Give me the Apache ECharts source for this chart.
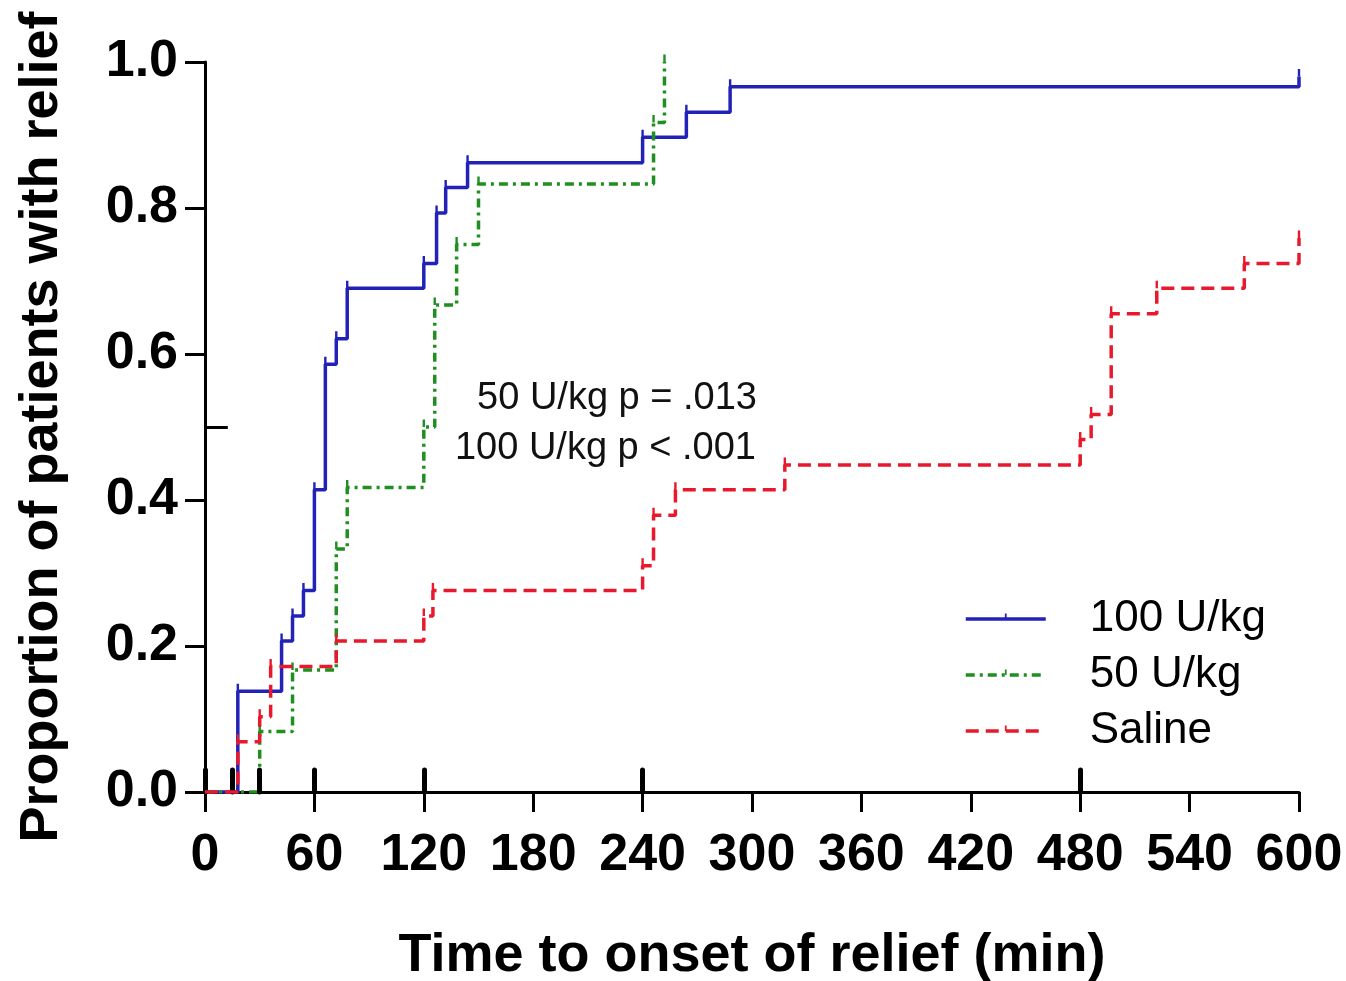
<!DOCTYPE html>
<html>
<head>
<meta charset="utf-8">
<script src="https://cdn.jsdelivr.net/npm/echarts@6/dist/echarts.min.js"></script>
<style>
  html, body { margin: 0; padding: 0; background: #fff; }
  #chart { width: 1346px; height: 981px; }
</style>
</head>
<body>
<div id="chart"></div>
<script>
// Kaplan-Meier style cumulative relief curves (time in minutes, proportion relieved)
const seriesNames = ['100 U/kg', '50 U/kg', 'Saline'];

const time100 = [0, 18, 42, 48, 54, 60, 66, 72, 78, 120, 127, 132, 144, 240, 264, 288, 600];
const prop100 = [0, 0.138, 0.207, 0.241, 0.276, 0.414, 0.586, 0.621, 0.690, 0.724, 0.793, 0.828, 0.862, 0.897, 0.931, 0.966, 0.98];

const time50 = [0, 30, 48, 72, 78, 120, 126, 138, 150, 246, 252];
const prop50 = [0, 0.083, 0.167, 0.333, 0.417, 0.5, 0.667, 0.75, 0.833, 0.917, 1.0];

const timeSaline = [0, 18, 30, 36, 72, 120, 125, 240, 246, 258, 318, 480, 486, 497, 522, 570, 600];
const propSaline = [0, 0.069, 0.103, 0.172, 0.207, 0.241, 0.276, 0.310, 0.379, 0.414, 0.448, 0.483, 0.517, 0.655, 0.690, 0.724, 0.759];

// assessment time points marked along the time axis
const assessTimes = [0, 15, 30, 60, 120, 240, 480];

const xTicks = [0, 60, 120, 180, 240, 300, 360, 420, 480, 540, 600];
const yTicks = [0.0, 0.2, 0.4, 0.6, 0.8, 1.0];

const annotationLines = ['50 U/kg p = .013', '100 U/kg p < .001'];

const FONT = '"Liberation Sans", Arial, Helvetica, sans-serif';

// small upright tick drawn above each event point (square bounding box keeps it un-stretched)
const TICK = 'path://M0,0 L0.01,0 M4.2,0 L5.8,0 L5.8,5 L4.2,5 Z M10,10 L9.99,10';

function pairs(ts, ps) {
  return ts.map((t, i) => i === 0 ? { value: [t, ps[i]], symbol: 'none' } : [t, ps[i]]);
}

function kmSeries(name, ts, ps, color, type, z) {
  return {
    name: name,
    type: 'line',
    step: 'end',
    data: pairs(ts, ps),
    z: z,
    showAllSymbol: true,
    symbol: TICK,
    symbolSize: 15,
    itemStyle: { color: color, borderWidth: 0 },
    lineStyle: { color: color, width: 3.5, type: type, cap: 'butt' },
    emphasis: { disabled: true },
    animation: false
  };
}

const chart = echarts.init(document.getElementById('chart'), null, { renderer: 'canvas' });

const option = {
  backgroundColor: '#ffffff',
  animation: false,
  grid: { left: 205, right: 47, top: 62, bottom: 189, outerBoundsMode: 'none', containLabel: false },
  xAxis: {
    type: 'value',
    min: xTicks[0],
    max: xTicks[xTicks.length - 1],
    interval: 60,
    name: 'Time to onset of relief (min)',
    nameLocation: 'middle',
    nameGap: 137,
    nameTextStyle: { fontFamily: FONT, fontWeight: 'bold', fontSize: 54, color: '#000' },
    axisLine: { lineStyle: { color: '#000', width: 3 } },
    axisTick: { show: true, length: 20, lineStyle: { color: '#000', width: 3 } },
    axisLabel: { margin: 38, fontFamily: FONT, fontWeight: 'bold', fontSize: 52, color: '#000' },
    splitLine: { show: false }
  },
  yAxis: {
    type: 'value',
    min: yTicks[0],
    max: yTicks[yTicks.length - 1],
    interval: 0.2,
    name: 'Proportion of patients with relief',
    nameLocation: 'middle',
    nameGap: 136,
    nameTextStyle: { fontFamily: FONT, fontWeight: 'bold', fontSize: 54, color: '#000' },
    axisLine: { show: true, lineStyle: { color: '#000', width: 3 } },
    axisTick: { show: true, length: 20, lineStyle: { color: '#000', width: 3 } },
    axisLabel: {
      margin: 27,
      fontFamily: FONT, fontWeight: 'bold', fontSize: 52, color: '#000',
      formatter: v => v.toFixed(1)
    },
    splitLine: { show: false }
  },
  legend: {
    orient: 'vertical',
    left: 959,
    top: 592,
    itemWidth: 80,
    itemHeight: 14,
    itemGap: 12,
    selectedMode: false,
    data: seriesNames,
    lineStyle: { width: 3.5 },
    textStyle: {
      fontFamily: FONT, fontSize: 44, color: '#000',
      lineHeight: 44, padding: [0, 0, 0, 39]
    }
  },
  graphic: [
    {
      type: 'text', right: 1346 - 757, top: 380,
      style: { text: annotationLines[0], font: '38px ' + FONT, fill: '#111', textAlign: 'right' }
    },
    {
      type: 'text', right: 1346 - 756, top: 430,
      style: { text: annotationLines[1], font: '38px ' + FONT, fill: '#111', textAlign: 'right' }
    }
  ],
  series: [
    kmSeries(seriesNames[0], time100, prop100, '#2222b8', 'solid', 3),
    kmSeries(seriesNames[1], time50, prop50, '#1f8f1f', [9, 5, 3, 5], 4),
    kmSeries(seriesNames[2], timeSaline, propSaline, '#e8192c', [13, 7], 5),
    {
      // rug of assessment times plus the 0.5 reference tick on the y axis
      name: 'marks',
      type: 'line',
      data: [],
      silent: true,
      z: 6,
      markLine: {
        silent: true,
        symbol: ['none', 'none'],
        label: { show: false },
        animation: false,
        data: assessTimes.map(t => [
          { coord: [t, 0], lineStyle: { color: '#000', width: 5, type: 'solid', cap: 'round' } },
          { coord: [t, 0.03] }
        ]).concat([[
          { coord: [0, 0.5], lineStyle: { color: '#000', width: 3, type: 'solid' } },
          { coord: [12.5, 0.5] }
        ]])
      }
    }
  ]
};

chart.setOption(option);
</script>
</body>
</html>
